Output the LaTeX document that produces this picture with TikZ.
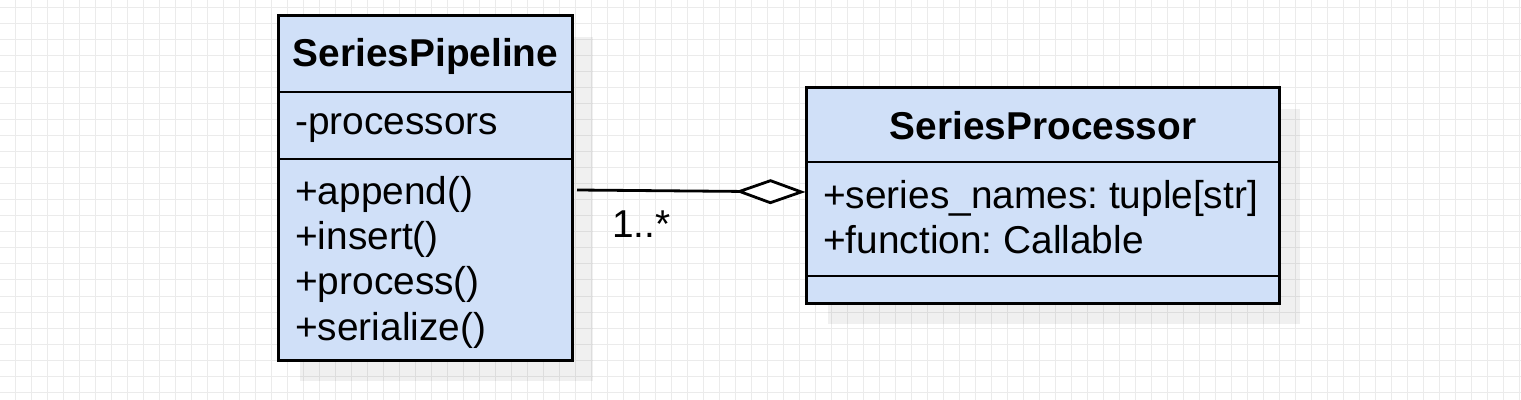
\documentclass[tikz,border=0pt]{standalone}
\usepackage{fontspec}
\setmainfont{Liberation Sans}
\usetikzlibrary{arrows.meta}
\definecolor{classfill}{RGB}{208,224,248}
\definecolor{gridgray}{RGB}{235,235,235}
\newcommand{\umlfont}{\fontsize{27.6}{32.4}\selectfont\frenchspacing}

\begin{document}
\begin{tikzpicture}[x=0.025cm,y=-0.025cm,
  classbox/.style={draw,line width=0.075cm,fill=classfill,inner sep=0},
  shadowbox/.style={fill=black,fill opacity=0.06},
  member/.style={anchor=base west,inner sep=0,font=\umlfont},
  classname/.style={anchor=base,inner sep=0,font=\umlfont\bfseries},
  divider/.style={line width=0.07cm},
  gridline/.style={gridgray,line width=0.025cm}]
% fond quadrille
\fill[white] (0,0) rectangle (1521,400);
\useasboundingbox (0,0) rectangle (1521,400);
\foreach \gx in {15,31,...,1519} \draw[gridline] (\gx,0) -- (\gx,400);
\foreach \gy in {8,24,...,392} \draw[gridline] (0,\gy) -- (1521,\gy);
% ombres
\fill[shadowbox] (300,37) rectangle (593,381);
\fill[shadowbox] (828,109) rectangle (1300,324);
% classe SeriesPipeline
\node[classbox,minimum width=7.325cm,minimum height=8.6cm] (pipe) at (425.5,188) {};
\draw[divider] (pipe.west |- 0,92) -- (pipe.east |- 0,92);
\draw[divider] (pipe.west |- 0,159) -- (pipe.east |- 0,159);
\node[classname] (pipename) at (425.5,67) {SeriesPipeline};
\node[member] (pipeattr) at (295,135) {-processors};
\foreach \meth [count=\i] in {append,insert,process,serialize}
  \node[member] (pipeop\i) at (295,{204.5+45.2*(\i-1)}) {+\meth()};
% classe SeriesProcessor
\node[classbox,minimum width=11.8cm,minimum height=5.375cm] (proc) at (1043,195.5) {};
\draw[divider] (proc.west |- 0,162) -- (proc.east |- 0,162);
\draw[divider] (proc.west |- 0,276) -- (proc.east |- 0,276);
\node[classname] (procname) at (1043,139.5) {SeriesProcessor};
\node[member] (procattr1) at (823,208.5) {+series\_names: tuple[str]};
\node[member] (procattr2) at (823,253.5) {+function: Callable};
% agregation
\coordinate (aggsrc) at (577,190);
\draw[line width=0.07cm,-{Diamond[fill=white,length=1.75cm,width=0.625cm]}] (aggsrc) -- (proc.west |- 0,192);
\node[member] (mult) at (612,237.5) {1..*};
\end{tikzpicture}
\end{document}
